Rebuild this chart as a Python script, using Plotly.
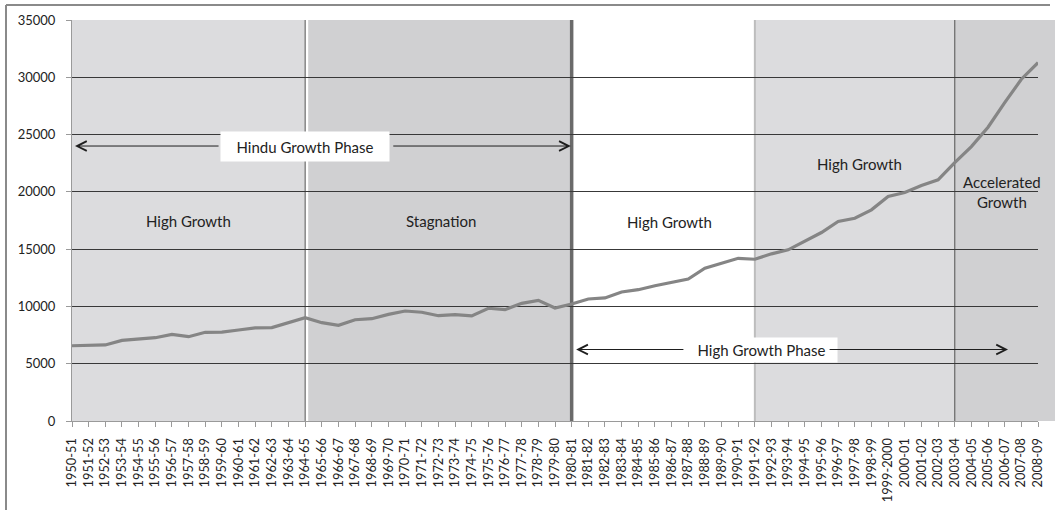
import plotly.graph_objects as go

years = ["1950-51","1951-52","1952-53","1953-54","1954-55","1955-56","1956-57","1957-58",
         "1958-59","1959-60","1960-61","1961-62","1962-63","1963-64","1964-65","1965-66",
         "1966-67","1967-68","1968-69","1969-70","1970-71","1971-72","1972-73","1973-74",
         "1974-75","1975-76","1976-77","1977-78","1978-79","1979-80","1980-81","1981-82",
         "1982-83","1983-84","1984-85","1985-86","1986-87","1987-88","1988-89","1989-90",
         "1990-91","1991-92","1992-93","1993-94","1994-95","1995-96","1996-97","1997-98",
         "1998-99","1999-2000","2000-01","2001-02","2002-03","2003-04","2004-05","2005-06",
         "2006-07","2007-08","2008-09"]

values = [6570, 6630, 6640, 7040, 7180, 7270, 7560, 7360, 7740, 7750,
          7940, 8120, 8150, 8550, 9020, 8580, 8350, 8840, 8930, 9310,
          9600, 9490, 9190, 9280, 9170, 9840, 9720, 10270, 10530, 9860,
          10210, 10650, 10740, 11260, 11460, 11810, 12100, 12390, 13330, 13760,
          14200, 14120, 14590, 14940, 15670, 16450, 17410, 17700, 18430, 19590,
          19940, 20550, 21050, 22560, 23950, 25640, 27790, 29830, 31280]

# phase boundaries (category labels)
phase_bounds = ["1950-51", "1964-65", "1980-81", "1991-92", "2003-04", "2008-09"]
phase_labels = ["High Growth", "Stagnation", "High Growth", "High Growth", "Accelerated<br>Growth"]

y_ticks = [0, 5000, 10000, 15000, 20000, 25000, 30000, 35000]

LIGHT = "#dcdcde"
DARK = "#d0d0d2"
FONT = "Lato"

idx = {y: i for i, y in enumerate(years)}
b = [idx[p] for p in phase_bounds]
n_last = len(years) - 1

# plot area pixel geometry (for extending beyond the axis like the original)
L, R, T, B = 72, 17, 20, 89
W, H = 1055, 510
pw = W - L - R
ph = H - T - B

fig = go.Figure()

fig.add_trace(go.Scatter(
    x=years, y=values, mode="lines",
    line=dict(color="#858585", width=3.2),
    showlegend=False, hoverinfo="skip",
))

shapes = []
# shaded regions
shapes.append(dict(type="rect", xref="x", yref="paper", x0=b[0], x1=b[1], y0=0, y1=1,
                   fillcolor=LIGHT, line_width=0, layer="below"))
shapes.append(dict(type="rect", xref="x", yref="paper", x0=b[1] + 0.18, x1=b[2], y0=0, y1=1,
                   fillcolor=DARK, line_width=0, layer="below"))
shapes.append(dict(type="rect", xref="x", yref="paper", x0=b[3], x1=b[4], y0=0, y1=1,
                   fillcolor=LIGHT, line_width=0, layer="below"))
shapes.append(dict(type="rect", xref="paper", yref="paper", x0=b[4] / n_last,
                   x1=(W - L) / pw, y0=0, y1=1,
                   fillcolor=DARK, line_width=0, layer="below"))
# vertical separators
shapes.append(dict(type="line", xref="x", yref="paper", x0=b[1], x1=b[1], y0=0, y1=1,
                   line=dict(color="#6e6e6e", width=1.2), layer="below"))
shapes.append(dict(type="line", xref="x", yref="paper", x0=b[2], x1=b[2], y0=0, y1=1,
                   line=dict(color="#6a6a6a", width=3.5), layer="below"))
shapes.append(dict(type="line", xref="x", yref="paper", x0=b[3], x1=b[3], y0=0, y1=1,
                   line=dict(color="#bdbdbd", width=2), layer="below"))
shapes.append(dict(type="line", xref="x", yref="paper", x0=b[4], x1=b[4], y0=0, y1=1,
                   line=dict(color="#707070", width=1.3), layer="below"))
# outer chart border (top and left)
bx0 = (6 - L) / pw
bx1 = (1050 - L) / pw
by_top = (H - B - 5) / ph
by_bot = (H - B - H) / ph
shapes.append(dict(type="line", xref="paper", yref="paper", x0=bx0, x1=bx1, y0=by_top, y1=by_top,
                   line=dict(color="#8a8a8a", width=2)))
shapes.append(dict(type="line", xref="paper", yref="paper", x0=bx0, x1=bx0, y0=by_top, y1=by_bot,
                   line=dict(color="#8a8a8a", width=2)))

annotations = []
txt_font = dict(family=FONT, size=15, color="#222222")
label_pos = [(7.0, 17430), (22.16, 17460), (35.9, 17370), (47.3, 22430), (55.84, 20010)]
for (lx, ly), t in zip(label_pos, phase_labels):
    annotations.append(dict(x=lx, y=ly, xref="x", yref="y", text=t, showarrow=False,
                            font=txt_font, align="center"))

# phase arrows
hindu_y = 24000
hgp_y = 6240
annotations.append(dict(x=14.0, y=hindu_y, xref="x", yref="y", text="Hindu Growth Phase",
                        showarrow=False, font=txt_font, bgcolor="white",
                        width=164, height=25, borderpad=2))
annotations.append(dict(x=41.4, y=hgp_y, xref="x", yref="y", text="High Growth Phase",
                        showarrow=False, font=txt_font, bgcolor="white",
                        width=147, height=20, borderpad=2))
arrows = [(0.18, 8.89, hindu_y), (29.95, 19.2, hindu_y), (30.27, 36.8, hgp_y), (56.2, 45.4, hgp_y)]
for tip, tail, ay in arrows:
    annotations.append(dict(x=tip, y=ay, ax=tail, ay=ay, xref="x", yref="y",
                            axref="x", ayref="y", text="", showarrow=True,
                            arrowhead=5, arrowsize=1.9, arrowwidth=1, arrowcolor="#1e1e1e"))

fig.update_layout(
    width=W, height=H,
    margin=dict(l=L, r=R, t=T, b=B, pad=0, autoexpand=False),
    paper_bgcolor="white",
    plot_bgcolor="rgba(0,0,0,0)",
    shapes=shapes,
    annotations=annotations,
    showlegend=False,
    xaxis=dict(
        type="category", categoryorder="array", categoryarray=years,
        range=[0, n_last], tickangle=-90, showgrid=False, automargin=False,
        ticks="outside", ticklen=5, tickcolor="#9a9a9a", tickwidth=1,
        ticklabelstandoff=6,
        showline=True, linecolor="#9a9a9a", linewidth=1,
        tickfont=dict(family=FONT, size=12.8, color="#222222"),
    ),
    yaxis=dict(
        range=[0, 35000], tickvals=y_ticks, ticktext=[str(v) for v in y_ticks],
        showgrid=True, gridcolor="#383838", gridwidth=1, zeroline=False, automargin=False,
        ticks="outside", ticklen=5, tickcolor="#9a9a9a",
        ticklabelstandoff=8,
        showline=True, linecolor="#9a9a9a", linewidth=1,
        tickfont=dict(family=FONT, size=13, color="#222222"),
    ),
)

fig.write_html("out.html", config={"displayModeBar": False},
               post_script="document.body.style.margin='0';document.body.style.overflow='hidden';")
